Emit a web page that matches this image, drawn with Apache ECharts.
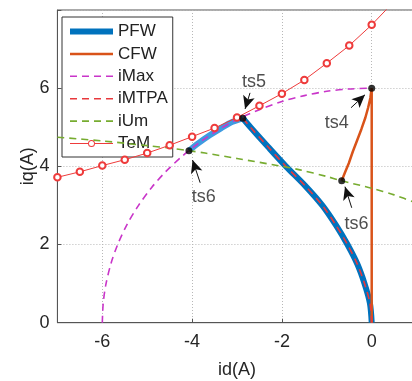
<!DOCTYPE html>
<html>
<head>
<meta charset="utf-8">
<script src="https://cdn.jsdelivr.net/npm/echarts@6/dist/echarts.min.js"></script>
<style>html,body{margin:0;padding:0;background:#fff;}#c{width:412px;height:381px;}</style>
</head>
<body>
<div id="c"></div>
<script>
// Axis ticks
var xTicks = [-6, -4, -2, 0];
var yTicks = [0, 2, 4, 6];

// PFW: along MTPA to ts5, then along current circle to ts6
var pfwId = [0, -0.04, -0.16, -0.32, -0.54, -0.80, -1.10, -1.48, -1.91, -2.31, -2.70, -2.87];
var pfwIq = [0, 0.5, 1.0, 1.5, 2.0, 2.5, 3.0, 3.5, 4.0, 4.5, 5.0, 5.23];
var pfwArcId = [-2.87, -3.1, -3.35, -3.6, -3.85, -4.07];
var pfwArcIq = [5.23, 5.14, 4.98, 4.80, 4.60, 4.40];

// CFW
var cfwId = [0, 0, -0.03, -0.08, -0.14, -0.23, -0.33, -0.42, -0.51, -0.60, -0.668];
var cfwIq = [0, 6, 5.75, 5.5, 5.25, 4.95, 4.65, 4.38, 4.08, 3.83, 3.63];

// iMax (current limit circle)
var imaxId = [-6, -5.98, -5.92, -5.8, -5.65, -5.45, -5.2, -4.9, -4.6, -4.2, -3.8, -3.4, -3.0, -2.5, -2.0, -1.5, -1.0, -0.5, 0];
var imaxIq = [0, 0.49, 0.98, 1.54, 2.02, 2.51, 2.99, 3.46, 3.85, 4.28, 4.64, 4.94, 5.20, 5.45, 5.66, 5.81, 5.92, 5.98, 6.0];

// iMTPA
var mtpaId = [0, -0.04, -0.16, -0.32, -0.54, -0.80, -1.10, -1.48, -1.91, -2.31, -2.70, -2.87];
var mtpaIq = [0, 0.5, 1.0, 1.5, 2.0, 2.5, 3.0, 3.5, 4.0, 4.5, 5.0, 5.23];

// iUm (voltage limit)
var iumId = [-7, -6, -5, -4.45, -4.07, -3.71, -3.0, -2.04, -1.6, -1.0, -0.668, 0, 0.5, 1];
var iumIq = [4.745, 4.65, 4.53, 4.46, 4.40, 4.34, 4.20, 4.01, 3.91, 3.74, 3.63, 3.44, 3.27, 3.06];

// TeM (constant torque)
var temId = [-7, -6.5, -6, -5.5, -5, -4.5, -4, -3.5, -3, -2.5, -2, -1.5, -1, -0.5, 0];
var temIq = [3.72, 3.86, 4.02, 4.17, 4.34, 4.54, 4.76, 4.98, 5.25, 5.55, 5.86, 6.21, 6.64, 7.09, 7.62];
var temTail = [0.5, 8.22];

// Key operating points
var keyId = [-4.07, -2.87, 0, -0.668];
var keyIq = [4.40, 5.23, 6.0, 3.63];

// Annotations
var annoText = ['ts6', 'ts5', 'ts4', 'ts6'];
var annoId = [-3.74, -2.62, -0.78, -0.34];
var annoIq = [3.22, 6.16, 5.10, 2.52];
var arrowFromId = [-3.82, -2.71, -0.46, -0.445];
var arrowFromIq = [3.58, 5.88, 5.50, 2.94];
var arrowToId = [-3.99, -2.82, -0.15, -0.595];
var arrowToIq = [4.16, 5.47, 5.83, 3.48];

function zip(a, b) { return a.map(function (v, i) { return [v, b[i]]; }); }

var temData = zip(temId, temIq);
temData.push({ value: temTail, symbol: 'none' });

var arrowLines = arrowFromId.map(function (v, i) {
  return [{ coord: [v, arrowFromIq[i]] }, { coord: [arrowToId[i], arrowToIq[i]] }];
});

// legend icon for TeM: thin line with a hollow circle in the middle
var temIcon = 'path://M0,3L18,3L18,4L0,4Z M25,3L43,3L43,4L25,4Z ' +
  'M18,3.5A3.5,3.5 0 1,0 25,3.5A3.5,3.5 0 1,0 18,3.5Z ' +
  'M19,3.5A2.5,2.5 0 1,1 24,3.5A2.5,2.5 0 1,1 19,3.5Z';

var noSym = { opacity: 0 };
var font = 'Liberation Sans, Arial, Helvetica, sans-serif';
var chart = echarts.init(document.getElementById('c'), null, { renderer: 'canvas' });
chart.setOption({
  animation: false,
  backgroundColor: '#fff',
  textStyle: { fontFamily: font },
  grid: { left: 57.4, top: 10, width: 359.2, height: 312.7, show: true, borderColor: '#555', borderWidth: 1,
    backgroundColor: '#fff', containLabel: false, outerBoundsMode: 'none' },
  legend: {
    orient: 'vertical', left: 62, top: 17,
    data: [
      { name: 'PFW', itemStyle: noSym, lineStyle: { width: 6, color: '#0072BD' } },
      { name: 'CFW', itemStyle: noSym, lineStyle: { width: 2.5, color: '#D95319' } },
      { name: 'iMax', itemStyle: noSym, lineStyle: { width: 1.6, color: '#c935c9', type: [7, 5] } },
      { name: 'iMTPA', itemStyle: noSym, lineStyle: { width: 1.6, color: '#e8383c', type: [7, 5] } },
      { name: 'iUm', itemStyle: noSym, lineStyle: { width: 1.6, color: '#77AC30', type: [7, 5] } },
      { name: 'TeM', icon: temIcon, itemStyle: { color: '#ee3b3b', borderWidth: 0, opacity: 1 } }
    ],
    padding: [6, 5, 5, 5], itemWidth: 43, itemHeight: 9, itemGap: 5.4,
    backgroundColor: '#fff', borderColor: '#333', borderWidth: 1, borderRadius: 0,
    textStyle: { fontSize: 17, color: '#222', fontFamily: font }
  },
  xAxis: {
    type: 'value', min: -7, max: 1,
    name: 'id(A)', nameLocation: 'middle', nameGap: 38, nameMoveOverlap: false,
    nameTextStyle: { fontSize: 18, color: '#262626', fontFamily: font },
    axisLine: { show: true, onZero: false, lineStyle: { color: '#555', width: 1 } },
    axisTick: { show: true, inside: true, length: 4, customValues: xTicks, lineStyle: { color: '#555' } },
    axisLabel: { customValues: xTicks, fontSize: 18, color: '#262626', margin: 10, fontFamily: font },
    splitLine: { show: true, lineStyle: { color: '#b8b8b8', type: [1, 2], width: 1 } }
  },
  yAxis: {
    type: 'value', min: 0, max: 8, interval: 2,
    name: 'iq(A)', nameLocation: 'middle', nameGap: 20, nameRotate: 90, nameMoveOverlap: false,
    nameTextStyle: { fontSize: 18, color: '#262626', fontFamily: font },
    axisLine: { show: true, onZero: false, lineStyle: { color: '#555', width: 1 } },
    axisTick: { show: true, inside: true, length: 4, lineStyle: { color: '#555' } },
    axisLabel: { fontSize: 18, color: '#262626', margin: 8, fontFamily: font,
      formatter: function (v) { return yTicks.indexOf(v) >= 0 ? String(v) : ''; } },
    splitLine: { show: true, lineStyle: { color: '#b8b8b8', type: [1, 2], width: 1 } }
  },
  series: [
    { name: 'PFW', type: 'line', data: zip(pfwId, pfwIq), symbol: 'none', showSymbol: false, smooth: 0.3,
      lineStyle: { color: '#0072BD', width: 6 }, itemStyle: { color: '#0072BD' }, z: 2 },
    { name: 'PFW arc', type: 'line', data: zip(pfwArcId, pfwArcIq), symbol: 'none', showSymbol: false, smooth: 0.3,
      lineStyle: { color: '#3f9be0', width: 6 }, itemStyle: { color: '#3f9be0' }, z: 2 },
    { name: 'CFW', type: 'line', data: zip(cfwId, cfwIq), symbol: 'none', showSymbol: false,
      lineStyle: { color: '#D95319', width: 2.5 }, itemStyle: { color: '#D95319' }, z: 3 },
    { name: 'iMax', type: 'line', data: zip(imaxId, imaxIq), symbol: 'none', showSymbol: false, smooth: 0.3,
      lineStyle: { color: '#c935c9', width: 1.6, type: [7, 5] }, itemStyle: { color: '#c935c9' }, z: 4 },
    { name: 'iMTPA', type: 'line', data: zip(mtpaId, mtpaIq), symbol: 'none', showSymbol: false, smooth: 0.3,
      lineStyle: { color: '#e8383c', width: 1.6, type: [7, 5] }, itemStyle: { color: '#e8383c' }, z: 4 },
    { name: 'iUm', type: 'line', data: zip(iumId, iumIq), symbol: 'none', showSymbol: false, smooth: 0.3,
      lineStyle: { color: '#77AC30', width: 1.6, type: [7, 5] }, itemStyle: { color: '#77AC30' }, z: 4 },
    { name: 'TeM', type: 'line', data: temData, symbol: 'emptyCircle', symbolSize: 6.5, showSymbol: true,
      lineStyle: { color: '#ee3b3b', width: 1 }, itemStyle: { color: '#ee3b3b', borderColor: '#ee3b3b', borderWidth: 1 }, z: 5 },
    { name: 'points', type: 'scatter', data: zip(keyId, keyIq), symbol: 'circle', symbolSize: 7,
      itemStyle: { color: '#000' }, z: 6,
      markLine: { silent: true, symbol: ['none', 'arrow'], symbolSize: [9, 13], data: arrowLines,
        lineStyle: { color: '#111', width: 1, type: 'solid' }, label: { show: false }, animation: false } },
    { name: 'labels', type: 'scatter', data: annoId.map(function (v, i) { return { value: [v, annoIq[i]], name: annoText[i] }; }),
      symbolSize: 0, z: 7,
      label: { show: true, position: 'inside', formatter: function (p) { return p.name; }, fontSize: 18, color: '#222', fontFamily: font } }
  ]
});
</script>
</body>
</html>
